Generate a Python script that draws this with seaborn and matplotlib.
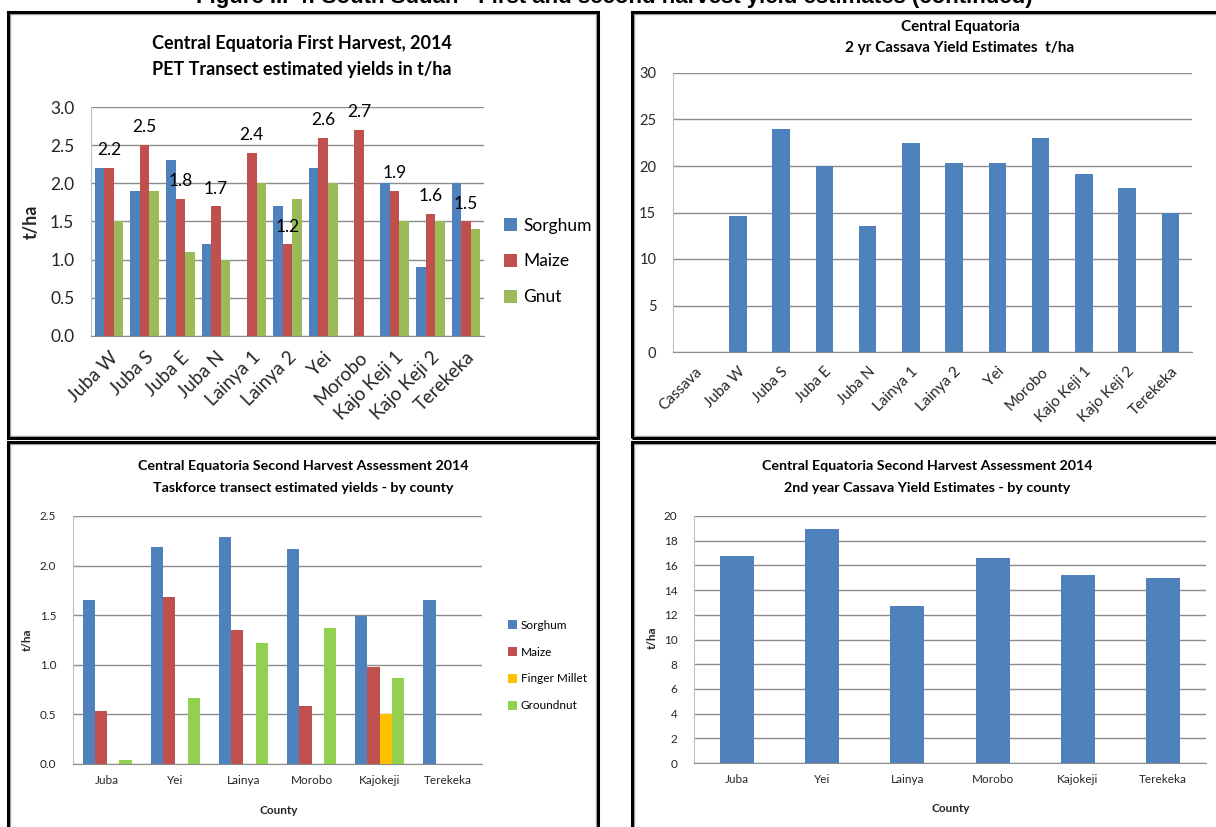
import numpy as np
import pandas as pd
import matplotlib
matplotlib.use("Agg")
import matplotlib.pyplot as plt
from matplotlib.patches import Rectangle, Patch
import seaborn as sns

# ---- First harvest, PET transect (t/ha) ----
sites = ["Juba W", "Juba S", "Juba E", "Juba N", "Lainya 1", "Lainya 2",
         "Yei", "Morobo", "Kajo Keji 1", "Kajo Keji 2", "Terekeka"]
sorghum_1 = [2.2, 1.9, 2.3, 1.2, np.nan, 1.7, 2.2, np.nan, 2.0, 0.9, 2.0]
maize_1 = [2.2, 2.5, 1.8, 1.7, 2.4, 1.2, 2.6, 2.7, 1.9, 1.6, 1.5]
gnut_1 = [1.5, 1.9, 1.1, 1.0, 2.0, 1.8, 2.0, np.nan, 1.5, 1.5, 1.4]

# ---- 2 yr cassava by site (t/ha) ----
cassava_sites = ["Cassava"] + sites
cassava_site_yield = [np.nan, 14.6, 24.0, 20.0, 13.5, 22.5, 20.3, 20.3,
                      23.0, 19.1, 17.6, 15.0]

# ---- Second harvest, taskforce transect by county (t/ha) ----
counties = ["Juba", "Yei", "Lainya", "Morobo", "Kajokeji", "Terekeka"]
sorghum_2 = [1.65, 2.19, 2.29, 2.17, 1.49, 1.65]
maize_2 = [0.53, 1.68, 1.35, 0.58, 0.98, np.nan]
millet_2 = [np.nan, np.nan, np.nan, np.nan, 0.50, np.nan]
groundnut_2 = [0.04, 0.67, 1.22, 1.37, 0.87, np.nan]

# ---- 2nd year cassava by county (t/ha) ----
cassava_county_yield = [16.75, 18.95, 12.75, 16.6, 15.25, 15.0]

BLUE, RED, GREEN, LIME, GOLD = "#4F81BD", "#C0504D", "#9BBB59", "#92D050", "#FFC000"
GRID = "#8c8c8c"
AXIS = "#bfbfbf"

sns.set_style("white")
plt.rcParams["font.family"] = ["Lato", "DejaVu Sans"]
plt.rcParams["text.color"] = "black"

W, H = 1216, 827
fig = plt.figure(figsize=(W / 100, H / 100), dpi=100)


def fx(px):
    return px / W


def fy(py):
    return 1 - py / H


def axes_px(l, t, r, b):
    return fig.add_axes([fx(l), fy(b), (r - l) / W, (b - t) / H])


def long_form(cats, series):
    df = pd.DataFrame({"cat": cats, **series})
    df = df.melt(id_vars="cat", var_name="crop", value_name="yield")
    return df.dropna()


def style_axes(ax, n, ymax, step, fs, fmt, xtick_len, ypad):
    ax.set_xlim(-0.5, n - 0.5)
    ax.set_ylim(0, ymax)
    yt = np.arange(0, ymax + step / 2, step)
    ax.set_yticks(yt)
    ax.set_yticklabels([fmt.format(v) for v in yt])
    ax.yaxis.grid(True, color=GRID, lw=1)
    ax.xaxis.grid(False)
    ax.set_axisbelow(True)
    for s in ["top", "right"]:
        ax.spines[s].set_visible(False)
    ax.spines["left"].set_color(AXIS)
    ax.spines["bottom"].set_color(GRID)
    ax.set_xticks(np.arange(-0.5, n), minor=True)
    ax.tick_params(axis="x", which="minor", length=xtick_len, color=GRID, width=1, direction="out")
    ax.tick_params(axis="x", which="major", length=0, labelsize=fs)
    ax.tick_params(axis="y", length=4, color=AXIS, labelsize=fs, pad=ypad)
    ax.set_xlabel("")
    ax.set_ylabel("")


def legend_px(ax, labels, colors, x, yc, fs, spacing):
    handles = [Patch(facecolor=c, edgecolor="none") for c in colors]
    ax.legend(handles, labels, loc="center left", bbox_to_anchor=(fx(x), fy(yc)),
              bbox_transform=fig.transFigure, frameon=False, fontsize=fs,
              handlelength=0.75, handleheight=0.75, handletextpad=0.35,
              labelspacing=spacing, borderpad=0, borderaxespad=0)


def panel_frame(l, t, r, b):
    fig.patches.append(Rectangle((fx(l) + 2 / W, fy(b) + 2 / H), (r - l - 4) / W, (b - t - 4) / H,
                                 transform=fig.transFigure, fill=False, ec="#a6a6a6", lw=1))
    fig.patches.append(Rectangle((fx(l), fy(b)), (r - l) / W, (b - t) / H,
                                 transform=fig.transFigure, fill=False, ec="black", lw=2.2))


# page heading, running off the top edge of the page
fig.text(fx(614), fy(3.5), "Figure III-4: South Sudan - First and second harvest yield estimates (continued)",
         ha="center", va="baseline", fontsize=16, fontweight="bold",
         family=["Liberation Sans", "DejaVu Sans"])

panel_frame(8, 12, 598, 438)
panel_frame(632, 12, 1222, 438)
panel_frame(8, 442, 598, 832)
panel_frame(632, 442, 1222, 832)

# ---------------- Panel 1 ----------------
ax1 = axes_px(91, 107, 484, 336)
df1 = long_form(sites, {"Sorghum": sorghum_1, "Maize": maize_1, "Gnut": gnut_1})
sns.barplot(data=df1, x="cat", y="yield", hue="crop", order=sites,
            hue_order=["Sorghum", "Maize", "Gnut"], palette=[BLUE, RED, GREEN],
            saturation=1, errorbar=None, width=0.8, linewidth=0, ax=ax1)
style_axes(ax1, len(sites), 3.0, 0.5, 12.5, "{:.1f}", 7, 8)
ax1.set_xticks(range(len(sites)))
ax1.set_xticklabels(sites, rotation=45, ha="right", rotation_mode="anchor", fontsize=13.5)
ax1.tick_params(axis="x", which="major", pad=9)
maize_bars = [c for c in ax1.containers if c.get_label() == "Maize"]
maize_bars = maize_bars[0] if maize_bars else ax1.containers[1]
ax1.bar_label(maize_bars, fmt="%.1f", padding=7, fontsize=12.5)
ax1.set_ylabel("t/ha", fontsize=13, fontweight="bold")
ax1.yaxis.set_label_coords((40 - 91) / (484 - 91), 0.5)
legend_px(ax1, ["Sorghum", "Maize", "Gnut"], [BLUE, RED, GREEN], 504, 261.5, 12.5, 1.15)
fig.text(fx(302), fy(44), "Central Equatoria First Harvest, 2014", ha="center", va="center",
         fontsize=13, fontweight="bold")
fig.text(fx(302), fy(70), "PET Transect estimated yields in t/ha", ha="center", va="center",
         fontsize=13, fontweight="bold")

# ---------------- Panel 2 ----------------
ax2 = axes_px(673, 73, 1192, 352)
df2 = pd.DataFrame({"cat": cassava_sites, "yield": cassava_site_yield}).dropna()
sns.barplot(data=df2, x="cat", y="yield", order=cassava_sites, color=BLUE,
            saturation=1, errorbar=None, width=0.4, linewidth=0, ax=ax2)
style_axes(ax2, len(cassava_sites), 30, 5, 10.5, "{:.0f}", 5, 8)
ax2.set_xticks(range(len(cassava_sites)))
ax2.set_xticklabels(cassava_sites, rotation=45, ha="right", rotation_mode="anchor", fontsize=11)
ax2.tick_params(axis="x", which="major", pad=9)
fig.text(fx(960), fy(27), "Central Equatoria", ha="center", va="center",
         fontsize=11, fontweight="bold")
fig.text(fx(960), fy(48), "2 yr Cassava Yield Estimates  t/ha", ha="center", va="center",
         fontsize=11, fontweight="bold")

# ---------------- Panel 3 ----------------
ax3 = axes_px(73, 516, 482, 764)
df3 = long_form(counties, {"Sorghum": sorghum_2, "Maize": maize_2,
                           "Finger Millet": millet_2, "Groundnut": groundnut_2})
crops3 = ["Sorghum", "Maize", "Finger Millet", "Groundnut"]
sns.barplot(data=df3, x="cat", y="yield", hue="crop", order=counties,
            hue_order=crops3, palette=[BLUE, RED, GOLD, LIME],
            saturation=1, errorbar=None, width=0.72, linewidth=0, ax=ax3)
style_axes(ax3, len(counties), 2.5, 0.5, 8.5, "{:.1f}", 5, 8)
ax3.tick_params(axis="x", which="major", pad=8)
ax3.set_xlabel("County", fontsize=8.5, fontweight="bold")
ax3.xaxis.set_label_coords((279 - 73) / (482 - 73), -(805 - 764) / (764 - 516))
ax3.set_ylabel("t/ha", fontsize=8.5, fontweight="bold")
ax3.yaxis.set_label_coords((33 - 73) / (482 - 73), (764 - 640) / (764 - 516))
legend_px(ax3, crops3, [BLUE, RED, GOLD, LIME], 508, 665.5, 8.5, 1.35)
fig.text(fx(303), fy(466), "Central Equatoria Second Harvest Assessment 2014", ha="center",
         va="center", fontsize=10.3, fontweight="bold")
fig.text(fx(303), fy(488), "Taskforce transect estimated yields - by county", ha="center",
         va="center", fontsize=10.3, fontweight="bold")

# ---------------- Panel 4 ----------------
ax4 = axes_px(694, 516, 1206, 763)
df4 = pd.DataFrame({"cat": counties, "yield": cassava_county_yield})
sns.barplot(data=df4, x="cat", y="yield", order=counties, color=BLUE,
            saturation=1, errorbar=None, width=0.4, linewidth=0, ax=ax4)
style_axes(ax4, len(counties), 20, 2, 8.5, "{:.0f}", 5, 8)
ax4.tick_params(axis="x", which="major", pad=8)
ax4.set_xlabel("County", fontsize=8.5, fontweight="bold")
ax4.xaxis.set_label_coords((951 - 694) / (1206 - 694), -(803 - 763) / (763 - 516))
ax4.set_ylabel("t/ha", fontsize=8.5, fontweight="bold")
ax4.yaxis.set_label_coords((658 - 694) / (1206 - 694), (763 - 638) / (763 - 516))
fig.text(fx(927), fy(466), "Central Equatoria Second Harvest Assessment 2014", ha="center",
         va="center", fontsize=10.3, fontweight="bold")
fig.text(fx(927), fy(488), "2nd year Cassava Yield Estimates - by county", ha="center",
         va="center", fontsize=10.3, fontweight="bold")

fig.savefig("out.png", dpi=100)
